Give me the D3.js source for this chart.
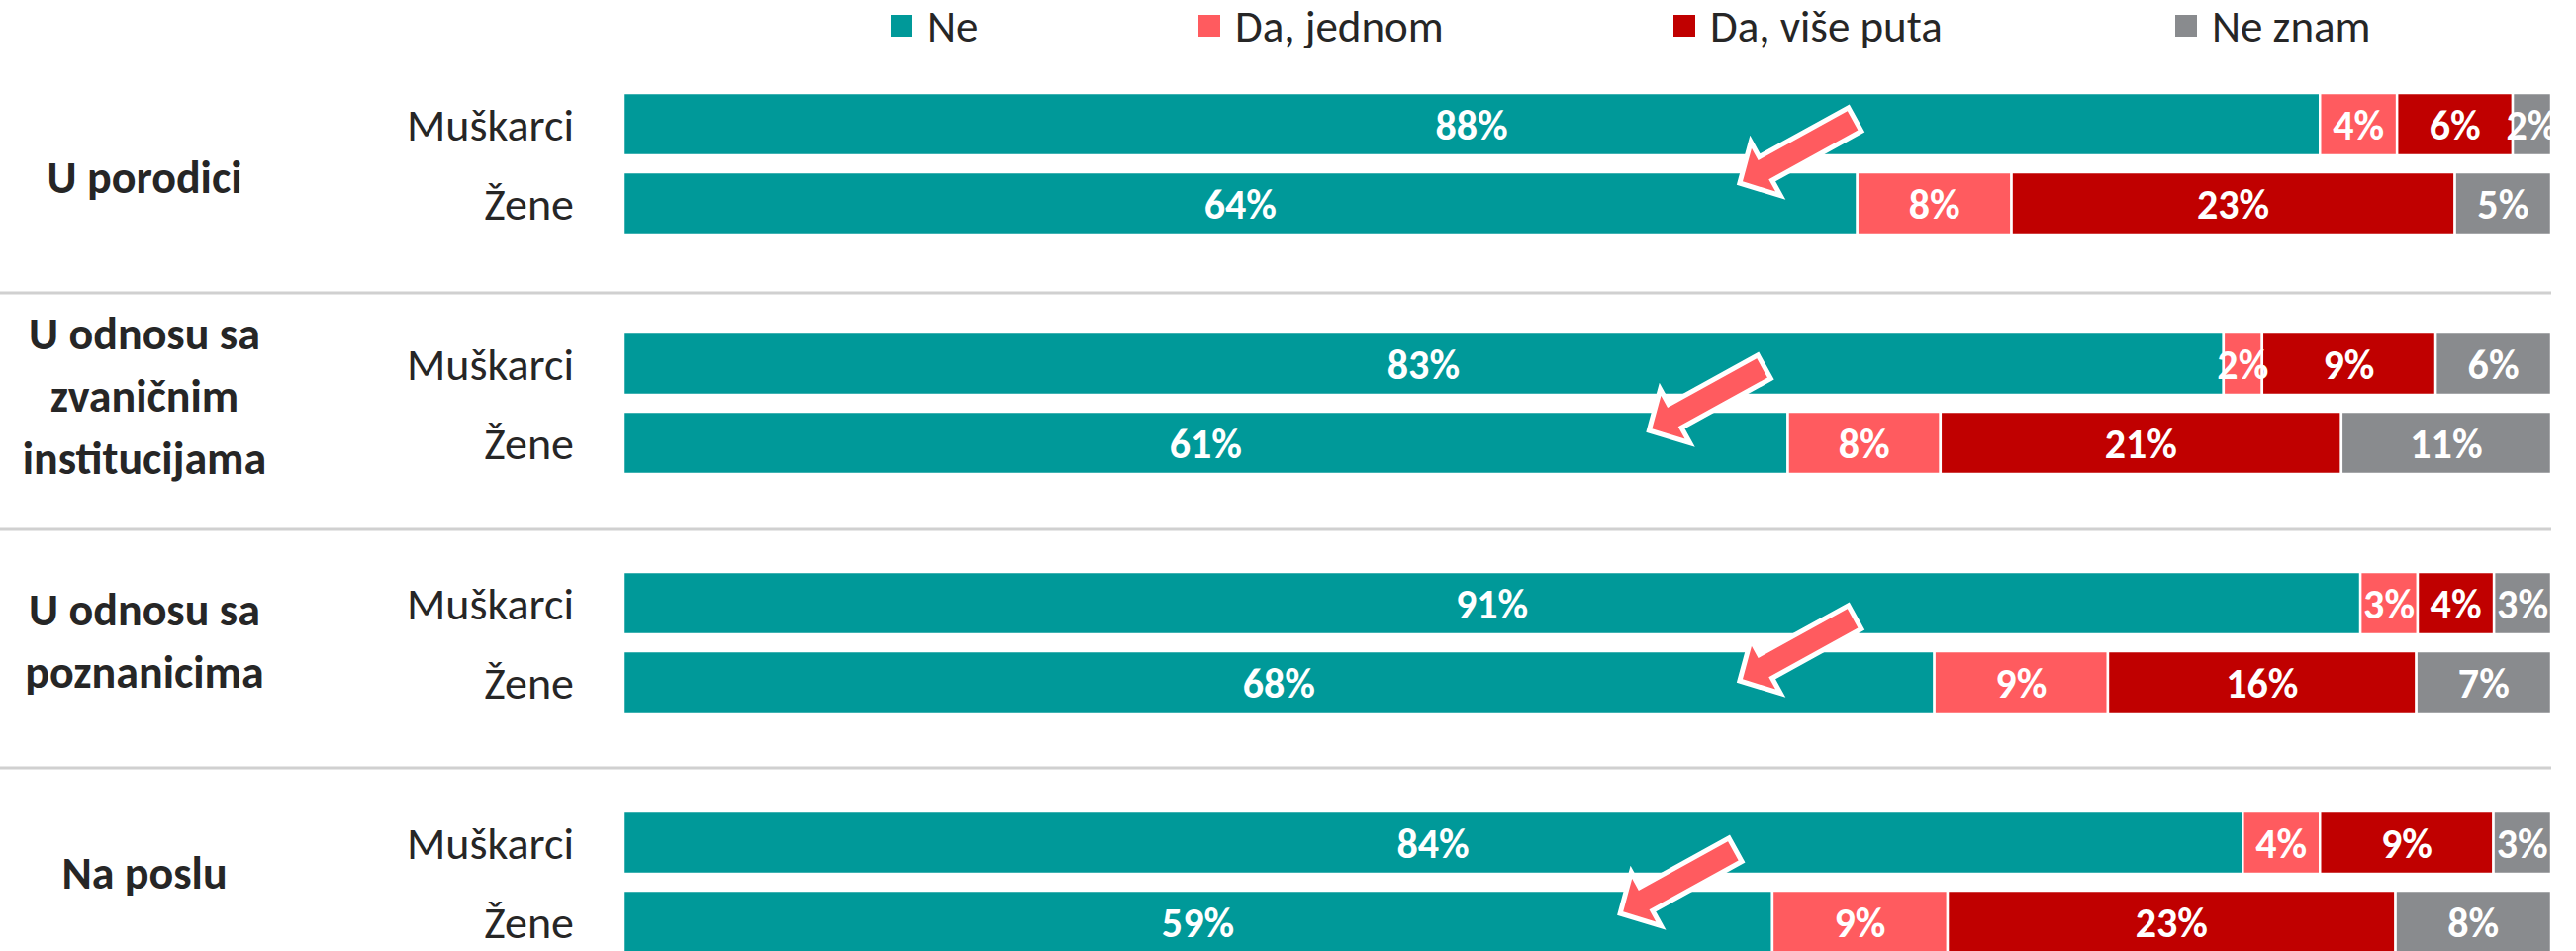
<!DOCTYPE html>
<html>
<head>
<meta charset="utf-8">
<script src="https://cdn.jsdelivr.net/npm/d3@7"></script>
<style>
  html, body { margin: 0; padding: 0; background: #ffffff; }
  svg { display: block; }
  text { font-family: Carlito, Calibri, "Liberation Sans Narrow", "DejaVu Sans Condensed", sans-serif; }
</style>
</head>
<body>
<svg id="chart" width="2603" height="961"></svg>
<script>
// ---------- DATA ----------
const groups = ["U porodici", "U odnosu sa zvaničnim institucijama", "U odnosu sa poznanicima", "Na poslu"];
const groupLabelLines = [["U porodici"], ["U odnosu sa", "zvaničnim", "institucijama"], ["U odnosu sa", "poznanicima"], ["Na poslu"]];
const genders = ["Muškarci", "Žene"];
const seriesNames = ["Ne", "Da, jednom", "Da, više puta", "Ne znam"];
// rows: group-major, then gender (Muškarci, Žene)
const ne          = [88, 64, 83, 61, 91, 68, 84, 59];
const daJednom    = [4, 8, 2, 8, 3, 9, 4, 9];
const daVisePuta  = [6, 23, 9, 21, 4, 16, 9, 23];
const neZnam      = [2, 5, 6, 11, 3, 7, 3, 8];
// arrow annotations (tip position as % of bar, per group)
const arrowTipPct = [57.9, 53.2, 57.9, 51.7];

// ---------- STYLE / LAYOUT ----------
const colors = ["#009999", "#FF5B5F", "#C00000", "#898B8E"];
const textColor = "#262626";
const W = 2603, H = 961;
const xLeft = 630, xRight = 2578;
const arrowTipDy = [19, 27, 38, 31];
const groupLabelDy = [12.5, -9, -3, -10.5];
const sepDy = [130, 127, 126];

const svg = d3.select("#chart");

const rows = [];
groups.forEach((g, gi) => {
  genders.forEach((s, si) => {
    const i = gi * 2 + si;
    rows.push({ group: g, gender: s, key: g + "|" + s,
      "Ne": ne[i], "Da, jednom": daJednom[i], "Da, više puta": daVisePuta[i], "Ne znam": neZnam[i] });
  });
});

const stack = d3.stack().keys(seriesNames).offset(d3.stackOffsetExpand);
const stacked = stack(rows);

const x = d3.scaleLinear().domain([0, 1]).range([xLeft, xRight]);
const yGroup = d3.scaleBand().domain(groups).range([45, 1013]).padding(0);
const yInner = d3.scaleBand().domain(genders).range([-72, 71]).paddingInner(0.2125).paddingOuter(0);
const gc = g => yGroup(g) + yGroup.bandwidth() / 2;
const yRow = d => gc(d.group) + yInner(d.gender);

// separators
const sepData = groups.slice(0, -1);
svg.append("g").selectAll("line").data(sepData).join("line")
  .attr("x1", 0).attr("x2", xRight)
  .attr("y1", (g, i) => gc(g) + sepDy[i]).attr("y2", (g, i) => gc(g) + sepDy[i])
  .attr("stroke", "#D0D0D0").attr("stroke-width", 3);

// bars
const barG = svg.append("g");
stacked.forEach((layer, li) => {
  barG.append("g").attr("fill", colors[li])
    .selectAll("rect").data(layer).join("rect")
    .attr("x", d => x(d[0]))
    .attr("width", d => Math.max(0, x(d[1]) - x(d[0])))
    .attr("y", d => yRow(d.data))
    .attr("height", yInner.bandwidth())
    .attr("stroke", "#ffffff").attr("stroke-width", 2.5);
});

// value labels (clipped at plot right edge)
svg.append("clipPath").attr("id", "clipR").append("rect")
  .attr("x", 0).attr("y", 0).attr("width", xRight).attr("height", H);
const labG = svg.append("g").attr("clip-path", "url(#clipR)");
stacked.forEach((layer, li) => {
  labG.append("g").selectAll("text").data(layer).join("text")
    .attr("x", d => (x(d[0]) + x(d[1])) / 2)
    .attr("y", d => yRow(d.data) + yInner.bandwidth() / 2)
    .attr("dy", "0.36em")
    .attr("text-anchor", "middle")
    .attr("fill", "#ffffff")
    .attr("font-weight", "bold")
    .attr("font-size", 42)
    .text(d => d.data[seriesNames[li]] + "%");
});

// gender labels
svg.append("g").selectAll("text").data(rows).join("text")
  .attr("x", 580)
  .attr("y", d => yRow(d) + yInner.bandwidth() / 2)
  .attr("dy", "0.36em")
  .attr("text-anchor", "end")
  .attr("fill", textColor)
  .attr("font-size", 46)
  .text(d => d.gender);

// group labels
const gl = svg.append("g").selectAll("text").data(groups).join("text")
  .attr("text-anchor", "middle")
  .attr("fill", textColor)
  .attr("font-weight", "bold")
  .attr("font-size", 46);
gl.each(function(g, gi) {
  const lines = groupLabelLines[gi];
  const lh = 63;
  const c = gc(g) + groupLabelDy[gi];
  d3.select(this).selectAll("tspan").data(lines).join("tspan")
    .attr("x", 146)
    .attr("y", (l, li) => c + (li - (lines.length - 1) / 2) * lh)
    .attr("dy", "0.36em")
    .text(l => l);
});

// legend
const legendX = [900, 1211, 1691, 2198];
const lg = svg.append("g").selectAll("g").data(seriesNames).join("g")
  .attr("transform", (d, i) => `translate(${legendX[i]},15)`);
lg.append("rect").attr("width", 22).attr("height", 22).attr("fill", (d, i) => colors[i]);
lg.append("text").attr("x", 37).attr("y", 11).attr("dy", "0.36em")
  .attr("fill", textColor).attr("font-size", 45).text(d => d);

// arrows
const H_ = 30, Wd = 31, S = 13.5, L = 133;
const arrowPts = [[0,0],[-H_,-Wd],[-H_,-S],[-L,-S],[-L,S],[-H_,S],[-H_,Wd]];
svg.append("g").selectAll("polygon").data(groups).join("polygon")
  .attr("points", arrowPts.map(p => p.join(",")).join(" "))
  .attr("transform", (g, i) => `translate(${x(arrowTipPct[i] / 100)},${gc(g) + arrowTipDy[i]}) rotate(151.1)`)
  .attr("fill", "#FF5B5F")
  .attr("stroke", "#ffffff").attr("stroke-width", 5)
  .attr("stroke-linejoin", "miter");
</script>
</body>
</html>
